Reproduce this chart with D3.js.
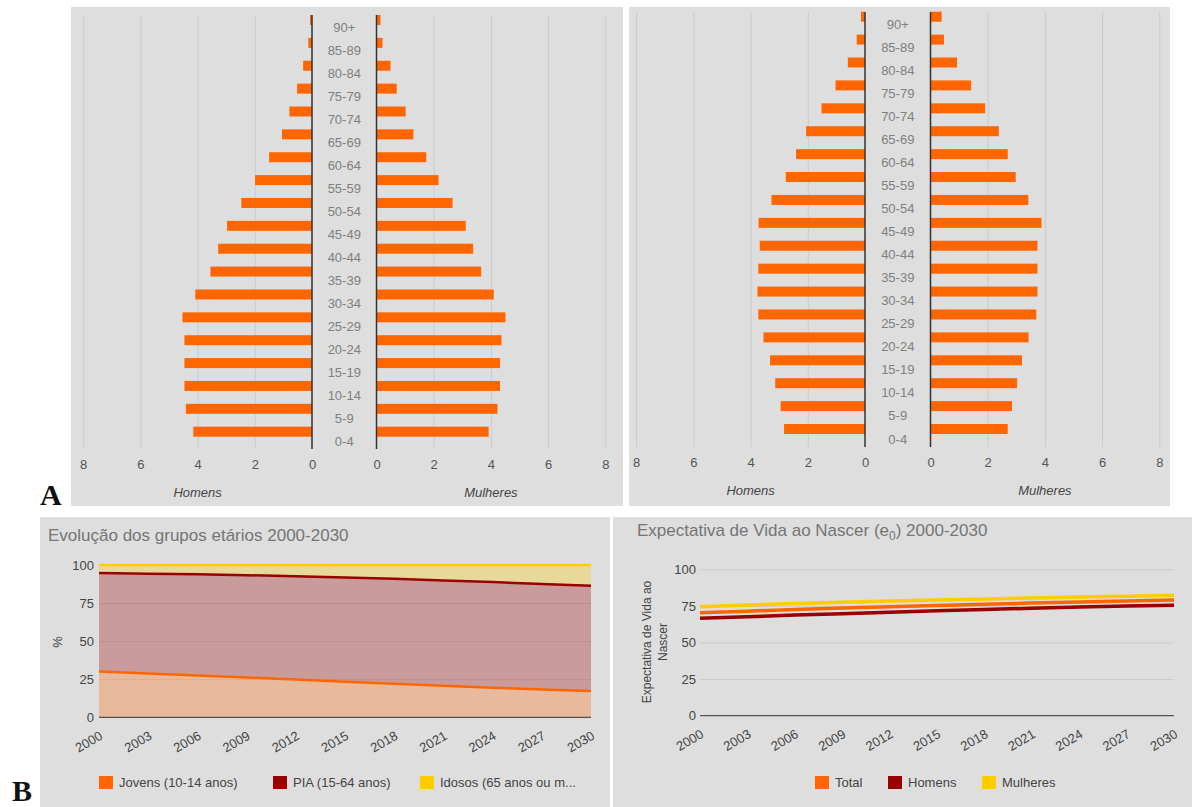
<!DOCTYPE html>
<html>
<head>
<meta charset="utf-8">
<script src="https://cdn.jsdelivr.net/npm/d3@7"></script>
<style>
  body { margin: 0; background: #fff; }
  svg { display: block; font-family: 'Liberation Sans', Arial, sans-serif; }
  .axis .domain { display: none; }
</style>
</head>
<body>
<svg id="chart" width="1192" height="807"></svg>
<script>
// ---- data ----
const ageGroups = ['0-4', '5-9', '10-14', '15-19', '20-24', '25-29', '30-34', '35-39', '40-44',
  '45-49', '50-54', '55-59', '60-64', '65-69', '70-74', '75-79', '80-84', '85-89', '90+'];
const pyramidTicks = [0, 2, 4, 6, 8];

// pyramid A (left), % of population per age group
const menLeft = [4.15, 4.41, 4.46, 4.46, 4.46, 4.53, 4.08, 3.55, 3.28, 2.97, 2.47, 1.99, 1.50, 1.05, 0.79, 0.52, 0.31, 0.13, 0.07];
const womenLeft = [3.92, 4.23, 4.32, 4.32, 4.37, 4.51, 4.10, 3.66, 3.38, 3.12, 2.66, 2.17, 1.74, 1.29, 1.02, 0.71, 0.49, 0.21, 0.14];
// pyramid A (right)
const menRight = [2.83, 2.95, 3.14, 3.32, 3.55, 3.73, 3.76, 3.73, 3.68, 3.72, 3.27, 2.77, 2.41, 2.06, 1.52, 1.03, 0.60, 0.29, 0.14];
const womenRight = [2.70, 2.85, 3.03, 3.20, 3.43, 3.70, 3.74, 3.74, 3.74, 3.88, 3.42, 2.98, 2.70, 2.39, 1.91, 1.42, 0.93, 0.47, 0.39];

// B: years, age group shares (%) and life expectancy
const years = [2000, 2003, 2006, 2009, 2012, 2015, 2018, 2021, 2024, 2027, 2030];
const jovens = [30.0, 28.8, 27.5, 26.1, 24.8, 23.4, 22.0, 20.7, 19.4, 18.3, 17.3];
const pia = [64.7, 65.5, 66.4, 67.2, 67.8, 68.4, 68.9, 69.2, 69.4, 69.3, 69.0];
const idosos = [5.3, 5.7, 6.1, 6.7, 7.4, 8.2, 9.1, 10.1, 11.2, 12.4, 13.7];
const groupNames = ['Jovens (10-14 anos)', 'PIA (15-64 anos)', 'Idosos (65 anos ou m...'];

const e0Total = [70.3, 71.4, 72.5, 73.5, 74.4, 75.3, 76.1, 76.9, 77.6, 78.3, 79.0];
const e0Homens = [66.5, 67.6, 68.7, 69.7, 70.7, 71.7, 72.6, 73.4, 74.2, 74.9, 75.5];
const e0Mulheres = [74.5, 75.6, 76.6, 77.5, 78.3, 79.0, 79.7, 80.4, 81.0, 81.6, 82.2];
const e0Names = ['Total', 'Homens', 'Mulheres'];

const yTicks = [0, 25, 50, 75, 100];

const colors = ['#ff6600', '#990000', '#ffcc00'];
const bg = '#dedede';
const gridColor = '#cbcbcb';

const svg = d3.select('#chart');

// panel backgrounds
const panels = [
  {x: 71, y: 7, w: 552, h: 499},
  {x: 629, y: 7, w: 541, h: 499},
  {x: 40, y: 517, w: 570, h: 290},
  {x: 613, y: 517, w: 579, h: 290}
];
svg.selectAll('.panel')
  .data(panels)
  .join('rect')
  .attr('class', 'panel')
  .attr('x', d => d.x).attr('y', d => d.y)
  .attr('width', d => d.w).attr('height', d => d.h)
  .attr('fill', bg);

class Pyramid {

  constructor(_config, _men, _women) {
    this.config = {
      originX: _config.originX,
      gap: _config.gap,
      unit: 28.6,
      barTop: _config.barTop,
      barBottom: _config.barBottom,
      labelTop: _config.labelTop,
      labelBottom: _config.labelBottom,
      gridTop: _config.gridTop,
      gridBottom: _config.gridBottom,
      barHeight: 10
    };
    this.men = _men;
    this.women = _women;
    this.initVis();
  }

  initVis() {
    const vis = this;
    const c = vis.config;
    vis.g = svg.append('g');

    vis.xMen = d3.scaleLinear().domain([0, 8]).range([c.originX, c.originX - 8 * c.unit]);
    vis.xWomen = d3.scaleLinear().domain([0, 8]).range([c.originX + c.gap, c.originX + c.gap + 8 * c.unit]);

    // 90+ at the top
    vis.yScale = d3.scalePoint().domain(ageGroups.slice().reverse()).range([c.barTop, c.barBottom]);
    vis.labelScale = d3.scalePoint().domain(ageGroups.slice().reverse()).range([c.labelTop, c.labelBottom]);

    vis.renderVis();
  }

  renderVis() {
    const vis = this;
    const c = vis.config;
    const gridH = c.gridBottom - c.gridTop;

    [vis.xMen, vis.xWomen].forEach(scale => {
      // vertical gridlines
      const grid = vis.g.append('g')
        .attr('class', 'axis grid')
        .attr('transform', `translate(0,${c.gridBottom})`)
        .call(d3.axisBottom(scale).tickValues(pyramidTicks.slice(1)).tickSize(-gridH).tickFormat(''));
      grid.selectAll('line').attr('stroke', gridColor);

      // tick labels
      const ax = vis.g.append('g')
        .attr('class', 'axis')
        .attr('transform', `translate(0,${c.gridBottom})`)
        .call(d3.axisBottom(scale).tickValues(pyramidTicks).tickSize(0).tickPadding(11));
      ax.selectAll('text')
        .attr('fill', '#555')
        .style('font-size', '13px')
        .style('font-family', "'Liberation Sans', Arial, sans-serif");
    });

    const rows = ageGroups.map((a, i) => ({age: a, men: vis.men[i], women: vis.women[i]}));

    vis.g.selectAll('.bar-men')
      .data(rows)
      .join('rect')
      .attr('class', 'bar-men')
      .attr('x', d => vis.xMen(d.men))
      .attr('width', d => vis.xMen(0) - vis.xMen(d.men))
      .attr('y', d => vis.yScale(d.age) - c.barHeight / 2)
      .attr('height', c.barHeight)
      .attr('fill', colors[0]);

    vis.g.selectAll('.bar-women')
      .data(rows)
      .join('rect')
      .attr('class', 'bar-women')
      .attr('x', vis.xWomen(0))
      .attr('width', d => vis.xWomen(d.women) - vis.xWomen(0))
      .attr('y', d => vis.yScale(d.age) - c.barHeight / 2)
      .attr('height', c.barHeight)
      .attr('fill', colors[0]);

    // center axis lines
    [vis.xMen(0), vis.xWomen(0)].forEach(x => {
      vis.g.append('line')
        .attr('x1', x).attr('x2', x)
        .attr('y1', c.gridTop).attr('y2', c.gridBottom)
        .attr('stroke', '#333')
        .attr('stroke-width', 1.5);
    });

    // age labels
    vis.g.selectAll('.age-label')
      .data(ageGroups)
      .join('text')
      .attr('class', 'age-label')
      .attr('x', (vis.xMen(0) + vis.xWomen(0)) / 2)
      .attr('y', d => vis.labelScale(d))
      .attr('dy', '0.35em')
      .attr('text-anchor', 'middle')
      .attr('fill', '#808080')
      .style('font-size', '13px')
      .text(d => d);

    // sex captions
    vis.g.selectAll('.caption')
      .data([['Homens', vis.xMen(4)], ['Mulheres', vis.xWomen(4)]])
      .join('text')
      .attr('class', 'caption')
      .attr('x', d => d[1])
      .attr('y', c.gridBottom + 48)
      .attr('text-anchor', 'middle')
      .attr('fill', '#444')
      .style('font-size', '13px')
      .style('font-style', 'italic')
      .text(d => d[0]);
  }
}

new Pyramid({originX: 312, gap: 64.5, barTop: 20, barBottom: 431.7, labelTop: 27, labelBottom: 441.5, gridTop: 15, gridBottom: 449}, menLeft, womenLeft);
new Pyramid({originX: 865, gap: 65.5, barTop: 16.7, barBottom: 429, labelTop: 24, labelBottom: 439, gridTop: 12, gridBottom: 447}, menRight, womenRight);

// ---- B charts ----
class TrendChart {

  constructor(_config, _series) {
    this.config = _config;
    this.series = _series;
    this.initVis();
  }

  initVis() {
    const vis = this;
    const c = vis.config;
    vis.g = svg.append('g');
    vis.xScale = d3.scaleLinear().domain([2000, 2030]).range([c.left, c.right]);
    vis.yScale = d3.scaleLinear().domain([0, 100]).range([c.bottom, c.top]);
    vis.renderVis();
  }

  renderVis() {
    const vis = this;
    const c = vis.config;
    const w = c.right - c.left;

    // horizontal gridlines
    const grid = vis.g.append('g')
      .attr('class', 'axis')
      .attr('transform', `translate(${c.left},0)`)
      .call(d3.axisLeft(vis.yScale).tickValues(yTicks.slice(1)).tickSize(-w).tickFormat(''));
    grid.selectAll('line').attr('stroke', gridColor);

    const yAx = vis.g.append('g')
      .attr('class', 'axis')
      .attr('transform', `translate(${c.left},0)`)
      .call(d3.axisLeft(vis.yScale).tickValues(yTicks).tickSize(0).tickPadding(c.yPad));
    yAx.selectAll('text').attr('fill', '#444').style('font-size', '13px')
      .style('font-family', "'Liberation Sans', Arial, sans-serif");

    if (c.mode === 'area') {
      const table = years.map((y, i) => ({year: y, s0: vis.series[0][i], s1: vis.series[1][i], s2: vis.series[2][i]}));
      const stack = d3.stack().keys(['s0', 's1', 's2'])(table);
      const area = d3.area()
        .x(d => vis.xScale(d.data.year))
        .y0(d => vis.yScale(d[0]))
        .y1(d => vis.yScale(d[1]));
      const line = d3.line()
        .x(d => vis.xScale(d.data.year))
        .y(d => vis.yScale(d[1]));
      vis.g.selectAll('.area')
        .data(stack)
        .join('path')
        .attr('class', 'area')
        .attr('d', area)
        .attr('fill', (d, i) => colors[i])
        .attr('fill-opacity', 0.3);
      vis.g.selectAll('.stack-line')
        .data(stack)
        .join('path')
        .attr('class', 'stack-line')
        .attr('d', line)
        .attr('fill', 'none')
        .attr('stroke', (d, i) => colors[i])
        .attr('stroke-width', 2.5);
    } else {
      const line = d3.line()
        .x((d, i) => vis.xScale(years[i]))
        .y(d => vis.yScale(d));
      // draw yellow first, then orange, then dark red on top
      const order = [2, 0, 1];
      vis.g.selectAll('.e0-line')
        .data(order)
        .join('path')
        .attr('class', 'e0-line')
        .attr('d', k => line(vis.series[k]))
        .attr('fill', 'none')
        .attr('stroke', k => colors[k])
        .attr('stroke-width', 3.5);
    }

    // baseline
    vis.g.append('line')
      .attr('x1', c.left).attr('x2', c.right)
      .attr('y1', vis.yScale(0)).attr('y2', vis.yScale(0))
      .attr('stroke', '#333')
      .attr('stroke-width', 1);

    // rotated year labels
    const xAx = vis.g.append('g')
      .attr('class', 'axis')
      .attr('transform', `translate(0,${vis.yScale(0)})`)
      .call(d3.axisBottom(vis.xScale).tickValues(years).tickSize(0).tickFormat(d3.format('d')));
    xAx.selectAll('text')
      .attr('x', 4).attr('y', 21).attr('dy', null)
      .attr('text-anchor', 'end')
      .attr('transform', 'rotate(-30, 4, 21)')
      .attr('fill', '#444')
      .style('font-size', '13px')
      .style('font-family', "'Liberation Sans', Arial, sans-serif");

    // legend
    const leg = vis.g.selectAll('.legend')
      .data(c.legendNames)
      .join('g')
      .attr('class', 'legend')
      .attr('transform', (d, i) => `translate(${c.legendX[i]},776)`);
    leg.append('rect')
      .attr('width', 14).attr('height', 13)
      .attr('fill', (d, i) => colors[i]);
    leg.append('text')
      .attr('x', 20).attr('y', 11)
      .attr('fill', '#444')
      .style('font-size', '13px')
      .text(d => d);
  }
}

new TrendChart({mode: 'area', left: 99, right: 591, top: 565, bottom: 717.3, yPad: 5,
  legendNames: groupNames, legendX: [99, 273, 420]}, [jovens, pia, idosos]);
new TrendChart({mode: 'line', left: 700, right: 1174, top: 569.3, bottom: 715.7, yPad: 4,
  legendNames: e0Names, legendX: [815, 888, 982]}, [e0Total, e0Homens, e0Mulheres]);

// titles
svg.append('text')
  .attr('x', 48).attr('y', 541)
  .attr('fill', '#757575')
  .style('font-size', '17px')
  .text('Evolução dos grupos etários 2000-2030');

const t2 = svg.append('text')
  .attr('x', 637).attr('y', 536)
  .attr('fill', '#757575')
  .style('font-size', '17px');
t2.append('tspan').text('Expectativa de Vida ao Nascer (e');
t2.append('tspan').attr('dy', 4).style('font-size', '12px').text('0');
t2.append('tspan').attr('dy', -4).text(') 2000-2030');

// y axis titles
svg.append('text')
  .attr('transform', 'translate(62,642) rotate(-90)')
  .attr('text-anchor', 'middle')
  .attr('fill', '#444')
  .style('font-size', '13px')
  .text('%');

const yt = svg.append('text')
  .attr('transform', 'translate(651,642) rotate(-90)')
  .attr('text-anchor', 'middle')
  .attr('fill', '#444')
  .style('font-size', '12px');
yt.append('tspan').attr('x', 0).attr('y', 0).text('Expectativa de Vida ao');
yt.append('tspan').attr('x', 0).attr('y', 16).text('Nascer');

// panel letters
svg.selectAll('.letter')
  .data([['A', 40, 505], ['B', 12, 801]])
  .join('text')
  .attr('class', 'letter')
  .attr('x', d => d[1]).attr('y', d => d[2])
  .style('font-family', "'Liberation Serif', 'Times New Roman', serif")
  .style('font-weight', 'bold')
  .style('font-size', '30px')
  .attr('fill', '#111')
  .text(d => d[0]);
</script>
</body>
</html>
